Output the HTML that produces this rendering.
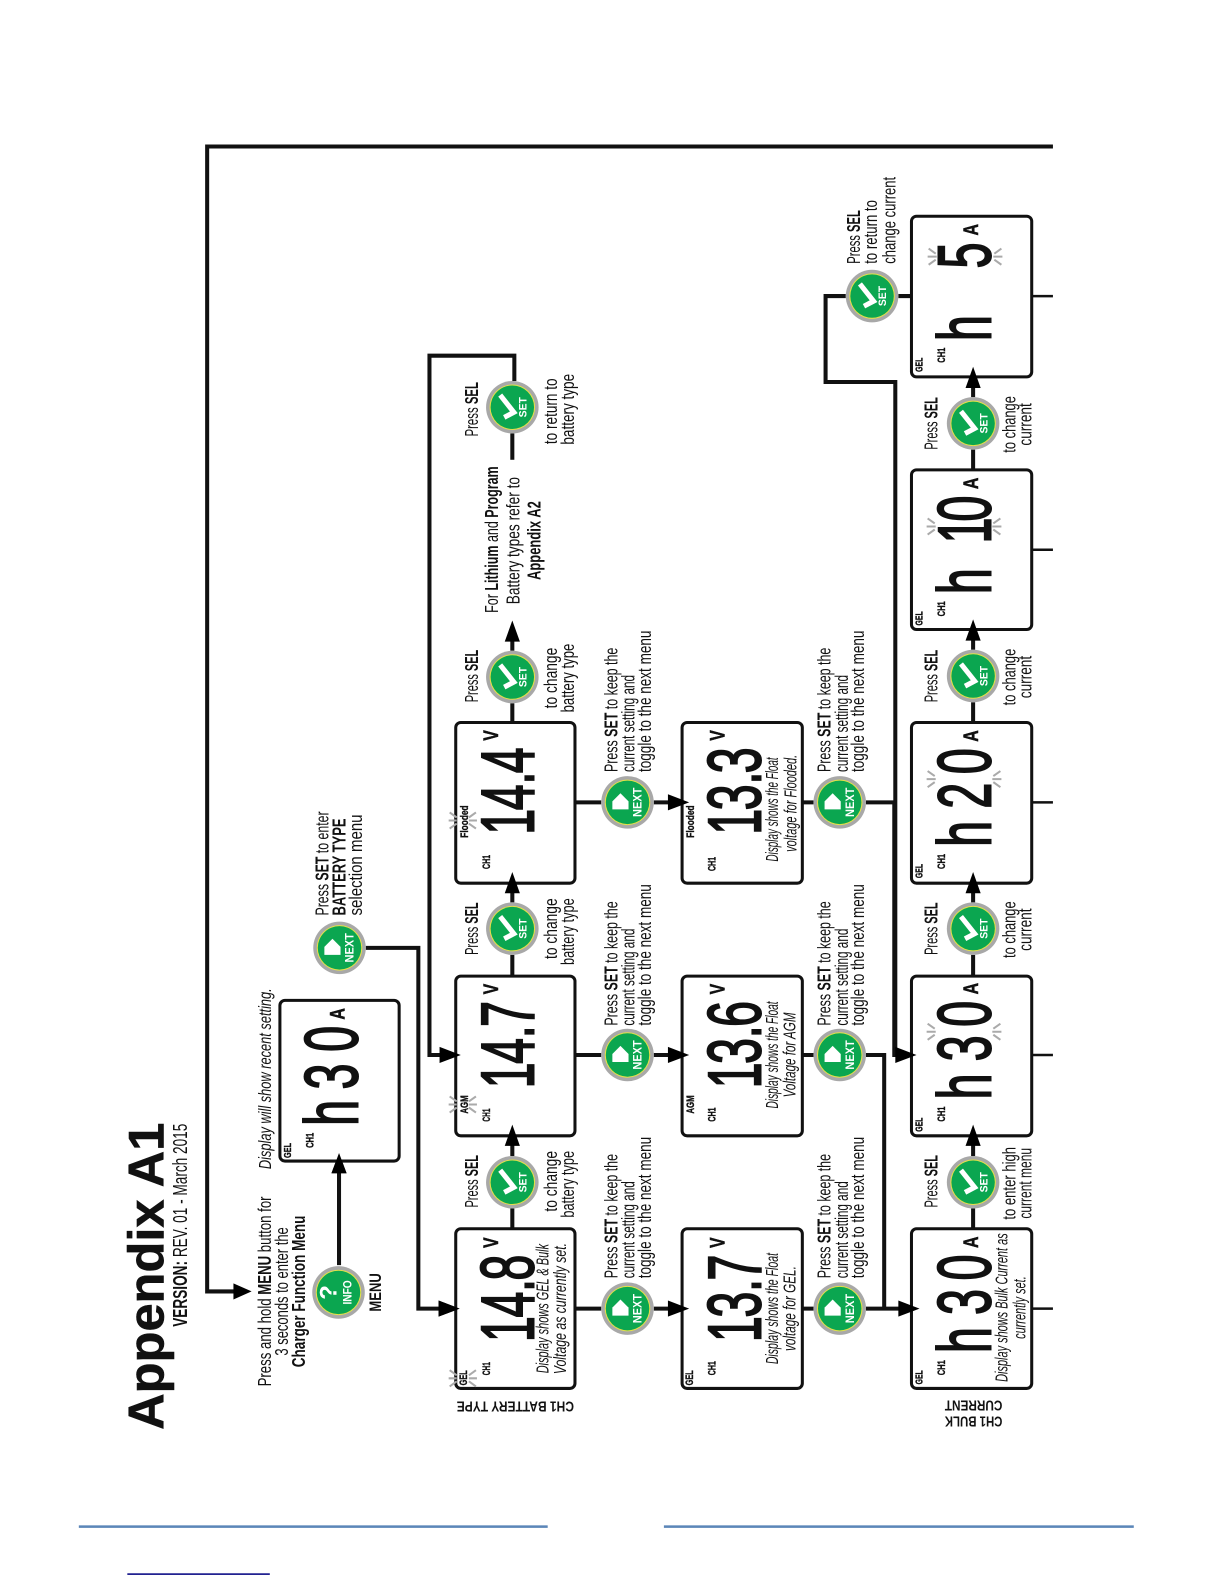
<!DOCTYPE html>
<html><head><meta charset="utf-8"><style>
html,body{margin:0;padding:0;background:#fff}
svg{display:block}
text{font-family:"Liberation Sans",sans-serif;font-size:18px;fill:#111}
.b{font-weight:700}
.i{font-style:italic}
.m{text-anchor:middle}
.bt{font-weight:700;fill:#fff;text-anchor:middle}
.d{font-size:74px;font-weight:400;fill:#111;stroke:#111;stroke-width:2}
.s{font-weight:700;font-size:11px;stroke:#111;stroke-width:.35}
.bt.s{stroke:none;fill:#fff}
.u{font-size:21px;font-weight:700;stroke:#111;stroke-width:.5}
.l{fill:none;stroke:#111;stroke-width:4}
.n{fill:none;stroke:#111;stroke-width:2.5}
.box{fill:#fff;stroke:#111;stroke-width:3}
</style></head><body>
<svg width="1224" height="1584" viewBox="0 0 1224 1584" xmlns="http://www.w3.org/2000/svg">
<defs>
<g id="btn"><circle r="26" fill="#a8a8a8"/><circle r="22.5" fill="#e4e04a"/><circle r="21.5" fill="#0ba650"/></g>
<g id="setb"><use href="#btn"/><path d="M-12,-12 L1.5,5 L-8,10" fill="none" stroke="#fff" stroke-width="5"/></g>
<g id="nextb"><use href="#btn"/><path d="M-15,-1 L-7,-9 L1,-1 V7 H-15 Z" fill="#fff"/></g>
<g id="ray"><path d="M-37,0H-28M-36,-8L-29,-3M-36,8L-29,3M37,0H28M36,-8L29,-3M36,8L29,3" stroke="#aaa" stroke-width="2" fill="none"/></g>
<g id="ray2"><path d="M-14,0H-6M-13,-8L-6,-3M-13,8L-6,3M14,0H6M13,-8L6,-3M13,8L6,3" stroke="#aaa" stroke-width="2" fill="none"/></g>
</defs>
<g transform="scale(1.0105)">

<!-- title -->
<text class="b" style="font-size:50px;stroke:#111;stroke-width:.6" transform="translate(162,1415) rotate(-90)" textLength="304" lengthAdjust="spacingAndGlyphs">Appendix A1</text>
<text style="font-size:20px" transform="translate(185,1313) rotate(-90)" textLength="201" lengthAdjust="spacingAndGlyphs"><tspan class="b">VERSION:</tspan> REV. 01 - March 2015</text>

<!-- frame and connectors -->
<path class="l" d="M1042,145H205V1278H232"/>
<polygon points="249,1278 231,1270 231,1286"/>
<path class="l" d="M362,938H414V1295H436"/>
<polygon points="455,1295 434,1287 434,1303"/>
<path class="l" stroke-width="3" d="M335.5,1252V1160"/>
<polygon points="335.5,1141 328,1161 343,1161"/>

<!-- battery row horizontal connectors -->
<path class="l" d="M507,1216V1196M507,1144V1130"/>
<path class="l" d="M507,966V945M507,893V880"/>
<path class="l" d="M507,715V696M507,644V632"/>
<polygon points="507,614 499.5,635 514.5,635"/>
<path class="l" d="M509,377V352H425V1044H437"/>
<path class="l" d="M507,429V455"/>

<!-- vertical to NEXT row -->
<path class="l" d="M569,1295H595M647,1295H664"/>
<path class="l" d="M569,1044H595M647,1044H664"/>
<path class="l" d="M569,794H595M647,794H664"/>

<path class="l" d="M794,1295H805M794,1044H805M794,794H805"/>
<path class="l" d="M857,1295H892"/>
<path class="l" d="M857,1044H875V1295"/>
<path class="l" d="M857,794H885V1044H890"/>

<!-- bulk row connectors -->
<path class="l" d="M963,1216V1196M963,1144V1130"/>
<path class="l" d="M963,966V945M963,893V880"/>
<path class="l" d="M963,715V695M963,643V630"/>
<path class="l" d="M963,465V445M963,393V380"/>
<path class="l" d="M902,293H889M837,293H817V378H886V1044"/>
<path class="n" d="M1021,1295H1042M1021,1044H1042M1021,794H1042M1021,544H1042M1021,293H1042"/>

<!-- blue footer lines -->
<rect x="78" y="1509.5" width="464" height="2.5" fill="#5b86b8"/>
<rect x="657" y="1509.5" width="465" height="2.5" fill="#5b86b8"/>
<rect x="126" y="1557" width="141" height="1.5" fill="#000080"/>

<!-- boxes -->
<rect class="box" x="277" y="990" width="118" height="159" rx="5"/>
<rect class="box" x="451" y="1216" width="118" height="158" rx="5"/>
<rect class="box" x="451" y="966" width="118" height="158" rx="5"/>
<rect class="box" x="451" y="715" width="118" height="159" rx="5"/>
<rect class="box" x="675" y="1216" width="119" height="158" rx="5"/>
<rect class="box" x="675" y="966" width="119" height="158" rx="5"/>
<rect class="box" x="675" y="715" width="119" height="159" rx="5"/>
<rect class="box" x="902" y="1216" width="119" height="158" rx="5"/>
<rect class="box" x="902" y="966" width="119" height="158" rx="5"/>
<rect class="box" x="902" y="715" width="119" height="159" rx="5"/>
<rect class="box" x="902" y="465" width="119" height="158" rx="5"/>
<rect class="box" x="902" y="214" width="119" height="159" rx="5"/>

<!-- arrows overlapping box edges -->
<polygon points="507,1113 499.5,1134 514.5,1134"/>
<polygon points="507,863 499.5,884 514.5,884"/>
<polygon points="455,1295 434,1287 434,1303"/>
<polygon points="456,1044 435,1036 435,1052"/>
<polygon points="682,1295 661,1287 661,1303"/>
<polygon points="682,1044 661,1036 661,1052"/>
<polygon points="682,794 661,786 661,802"/>
<polygon points="910,1295 889,1287 889,1303"/>
<polygon points="907,1044 886,1036 886,1052"/>
<polygon points="963,1113 955.5,1134 970.5,1134"/>
<polygon points="963,863 955.5,884 970.5,884"/>
<polygon points="963,613 955.5,634 970.5,634"/>
<polygon points="963,363 955.5,384 970.5,384"/>
<polygon points="335.5,1141 328,1161 343,1161"/>

<!-- LCD values -->
<text class="d" transform="translate(354,1114) rotate(-90) scale(.62,1)" x="0 58 118">h30</text>
<text class="u" transform="translate(341,1009) rotate(-90) scale(.75,1)">A</text>
<text class="s" transform="translate(310,1136) rotate(-90)" textLength="15" lengthAdjust="spacingAndGlyphs">CH1</text>
<text class="s" style="font-size:10px" transform="translate(288,1146) rotate(-90)" textLength="15" lengthAdjust="spacingAndGlyphs">GEL</text>

<text class="d" transform="translate(528,1328) rotate(-90) scale(.62,1)" x="0 39 80 98">14.8</text>
<text class="u" transform="translate(493,1235) rotate(-90) scale(.75,1)">V</text>
<text class="s" transform="translate(485,1361) rotate(-90)" textLength="13" lengthAdjust="spacingAndGlyphs">CH1</text>
<text class="s" transform="translate(462,1371) rotate(-90)" textLength="15" lengthAdjust="spacingAndGlyphs">GEL</text>
<text class="i" style="font-size:17px" text-anchor="middle" transform="translate(543,1295) rotate(-90)" textLength="128" lengthAdjust="spacingAndGlyphs">Display shows GEL &amp; Bulk</text>
<text class="i" style="font-size:17px" text-anchor="middle" transform="translate(560,1295) rotate(-90)" textLength="130" lengthAdjust="spacingAndGlyphs">Voltage as currently set.</text>

<text class="d" transform="translate(528,1077) rotate(-90) scale(.62,1)" x="0 39 80 98">14.7</text>
<text class="u" transform="translate(493,984) rotate(-90) scale(.75,1)">V</text>
<text class="s" transform="translate(485,1110) rotate(-90)" textLength="13" lengthAdjust="spacingAndGlyphs">CH1</text>
<text class="s" transform="translate(463,1102) rotate(-90)" textLength="18" lengthAdjust="spacingAndGlyphs">AGM</text>

<text class="d" transform="translate(528,826) rotate(-90) scale(.62,1)" x="0 39 80 98">14.4</text>
<text class="u" transform="translate(493,733) rotate(-90) scale(.75,1)">V</text>
<text class="s" transform="translate(485,860) rotate(-90)" textLength="14" lengthAdjust="spacingAndGlyphs">CH1</text>
<text class="s" transform="translate(463,829) rotate(-90)" textLength="32" lengthAdjust="spacingAndGlyphs">Flooded</text>

<text class="d" transform="translate(752.5,1328) rotate(-90) scale(.62,1)" x="0 39 80 98">13.7</text>
<text class="u" transform="translate(717,1235) rotate(-90) scale(.75,1)">V</text>
<text class="s" transform="translate(708,1361) rotate(-90)" textLength="14" lengthAdjust="spacingAndGlyphs">CH1</text>
<text class="s" transform="translate(686,1371) rotate(-90)" textLength="15" lengthAdjust="spacingAndGlyphs">GEL</text>
<text class="i" style="font-size:17px" text-anchor="middle" transform="translate(770,1295) rotate(-90)" textLength="110" lengthAdjust="spacingAndGlyphs">Display shows the Float</text>
<text class="i" style="font-size:17px" text-anchor="middle" transform="translate(787,1295) rotate(-90)" textLength="84" lengthAdjust="spacingAndGlyphs">voltage for GEL.</text>

<text class="d" transform="translate(752.5,1077) rotate(-90) scale(.62,1)" x="0 39 80 98">13.6</text>
<text class="u" transform="translate(717,984) rotate(-90) scale(.75,1)">V</text>
<text class="s" transform="translate(708,1110) rotate(-90)" textLength="14" lengthAdjust="spacingAndGlyphs">CH1</text>
<text class="s" transform="translate(687,1102) rotate(-90)" textLength="18" lengthAdjust="spacingAndGlyphs">AGM</text>
<text class="i" style="font-size:17px" text-anchor="middle" transform="translate(770,1044) rotate(-90)" textLength="106" lengthAdjust="spacingAndGlyphs">Display shows the Float</text>
<text class="i" style="font-size:17px" text-anchor="middle" transform="translate(787,1044) rotate(-90)" textLength="84" lengthAdjust="spacingAndGlyphs">Voltage for AGM</text>

<text class="d" transform="translate(752.5,826) rotate(-90) scale(.62,1)" x="0 39 80 98">13.3</text>
<text class="u" transform="translate(717,733) rotate(-90) scale(.75,1)">V</text>
<text class="s" transform="translate(708,862) rotate(-90)" textLength="14" lengthAdjust="spacingAndGlyphs">CH1</text>
<text class="s" transform="translate(687,829) rotate(-90)" textLength="32" lengthAdjust="spacingAndGlyphs">Flooded</text>
<text class="i" style="font-size:17px" text-anchor="middle" transform="translate(770,801) rotate(-90)" textLength="103" lengthAdjust="spacingAndGlyphs">Display shows the Float</text>
<text class="i" style="font-size:17px" text-anchor="middle" transform="translate(788,795) rotate(-90)" textLength="96" lengthAdjust="spacingAndGlyphs">voltage for Flooded.</text>

<text class="d" transform="translate(980,1339) rotate(-90) scale(.62,1)" x="0 61 116">h30</text>
<text class="u" transform="translate(968,1235) rotate(-90) scale(.75,1)">A</text>
<text class="s" transform="translate(935,1361) rotate(-90)" textLength="15" lengthAdjust="spacingAndGlyphs">CH1</text>
<text class="s" style="font-size:10px" transform="translate(913,1370) rotate(-90)" textLength="14" lengthAdjust="spacingAndGlyphs">GEL</text>
<text class="i" style="font-size:17px" text-anchor="middle" transform="translate(997,1294) rotate(-90)" textLength="147" lengthAdjust="spacingAndGlyphs">Display shows Bulk Current as</text>
<text class="i" style="font-size:17px" text-anchor="middle" transform="translate(1015,1294) rotate(-90)" textLength="62" lengthAdjust="spacingAndGlyphs">currently set.</text>

<text class="d" transform="translate(980,1088) rotate(-90) scale(.62,1)" x="0 61 116">h30</text>
<text class="u" transform="translate(968,984) rotate(-90) scale(.75,1)">A</text>
<text class="s" transform="translate(935,1110) rotate(-90)" textLength="15" lengthAdjust="spacingAndGlyphs">CH1</text>
<text class="s" style="font-size:10px" transform="translate(913,1120) rotate(-90)" textLength="14" lengthAdjust="spacingAndGlyphs">GEL</text>

<text class="d" transform="translate(980,838) rotate(-90) scale(.62,1)" x="0 61 116">h20</text>
<text class="u" transform="translate(968,734) rotate(-90) scale(.75,1)">A</text>
<text class="s" transform="translate(935,860) rotate(-90)" textLength="15" lengthAdjust="spacingAndGlyphs">CH1</text>
<text class="s" style="font-size:10px" transform="translate(913,869) rotate(-90)" textLength="14" lengthAdjust="spacingAndGlyphs">GEL</text>

<text class="d" transform="translate(980,588) rotate(-90) scale(.62,1)" x="0 81 116">h10</text>
<text class="u" transform="translate(968,484) rotate(-90) scale(.75,1)">A</text>
<text class="s" transform="translate(935,610) rotate(-90)" textLength="15" lengthAdjust="spacingAndGlyphs">CH1</text>
<text class="s" style="font-size:10px" transform="translate(913,619) rotate(-90)" textLength="14" lengthAdjust="spacingAndGlyphs">GEL</text>

<text class="d" transform="translate(980,337.5) rotate(-90) scale(.62,1)" x="0 116">h5</text>
<text class="u" transform="translate(968,233) rotate(-90) scale(.75,1)">A</text>
<text class="s" transform="translate(935,359) rotate(-90)" textLength="15" lengthAdjust="spacingAndGlyphs">CH1</text>
<text class="s" style="font-size:10px" transform="translate(913,368) rotate(-90)" textLength="14" lengthAdjust="spacingAndGlyphs">GEL</text>

<!-- rays -->
<use href="#ray2" x="458" y="1364"/>
<use href="#ray2" x="458" y="1093"/>
<use href="#ray2" x="458" y="812"/>
<use href="#ray" x="954" y="1021"/>
<use href="#ray" x="954" y="771"/>
<use href="#ray" x="954" y="521"/>
<use href="#ray" x="955" y="254"/>

<!-- buttons -->
<g transform="translate(335,1279)"><use href="#btn"/><text class="bt" style="font-size:24px" transform="translate(-2,0) rotate(-90)">?</text><text class="bt" style="font-size:12px" transform="translate(13,0) rotate(-90)" textLength="24" lengthAdjust="spacingAndGlyphs">INFO</text></g>
<g transform="translate(336,938)"><use href="#nextb"/><text class="bt" style="font-size:12px" transform="translate(14,0) rotate(-90)" textLength="29" lengthAdjust="spacingAndGlyphs">NEXT</text></g>

<g transform="translate(507,1170)"><use href="#setb"/><text class="bt s" transform="translate(14,0) rotate(-90)" textLength="20" lengthAdjust="spacingAndGlyphs">SET</text></g>
<g transform="translate(507,919)"><use href="#setb"/><text class="bt s" transform="translate(14,0) rotate(-90)" textLength="20" lengthAdjust="spacingAndGlyphs">SET</text></g>
<g transform="translate(507,670)"><use href="#setb"/><text class="bt s" transform="translate(14,0) rotate(-90)" textLength="20" lengthAdjust="spacingAndGlyphs">SET</text></g>
<g transform="translate(507,403)"><use href="#setb"/><text class="bt s" transform="translate(14,0) rotate(-90)" textLength="20" lengthAdjust="spacingAndGlyphs">SET</text></g>
<g transform="translate(963,1170)"><use href="#setb"/><text class="bt s" transform="translate(14,0) rotate(-90)" textLength="20" lengthAdjust="spacingAndGlyphs">SET</text></g>
<g transform="translate(963,919)"><use href="#setb"/><text class="bt s" transform="translate(14,0) rotate(-90)" textLength="20" lengthAdjust="spacingAndGlyphs">SET</text></g>
<g transform="translate(963,669)"><use href="#setb"/><text class="bt s" transform="translate(14,0) rotate(-90)" textLength="20" lengthAdjust="spacingAndGlyphs">SET</text></g>
<g transform="translate(963,419)"><use href="#setb"/><text class="bt s" transform="translate(14,0) rotate(-90)" textLength="20" lengthAdjust="spacingAndGlyphs">SET</text></g>
<g transform="translate(863,293)"><use href="#setb"/><text class="bt s" transform="translate(14,0) rotate(-90)" textLength="20" lengthAdjust="spacingAndGlyphs">SET</text></g>

<g transform="translate(621,1295)"><use href="#nextb"/><text class="bt" style="font-size:12px" transform="translate(14,0) rotate(-90)" textLength="29" lengthAdjust="spacingAndGlyphs">NEXT</text></g>
<g transform="translate(621,1044)"><use href="#nextb"/><text class="bt" style="font-size:12px" transform="translate(14,0) rotate(-90)" textLength="29" lengthAdjust="spacingAndGlyphs">NEXT</text></g>
<g transform="translate(621,794)"><use href="#nextb"/><text class="bt" style="font-size:12px" transform="translate(14,0) rotate(-90)" textLength="29" lengthAdjust="spacingAndGlyphs">NEXT</text></g>
<g transform="translate(831,1295)"><use href="#nextb"/><text class="bt" style="font-size:12px" transform="translate(14,0) rotate(-90)" textLength="29" lengthAdjust="spacingAndGlyphs">NEXT</text></g>
<g transform="translate(831,1044)"><use href="#nextb"/><text class="bt" style="font-size:12px" transform="translate(14,0) rotate(-90)" textLength="29" lengthAdjust="spacingAndGlyphs">NEXT</text></g>
<g transform="translate(831,794)"><use href="#nextb"/><text class="bt" style="font-size:12px" transform="translate(14,0) rotate(-90)" textLength="29" lengthAdjust="spacingAndGlyphs">NEXT</text></g>

<!-- menu text -->
<text class="m" transform="translate(268,1278) rotate(-90)" textLength="188" lengthAdjust="spacingAndGlyphs">Press and hold <tspan class="b">MENU</tspan> button for</text>
<text class="m" transform="translate(285,1278) rotate(-90)" textLength="127" lengthAdjust="spacingAndGlyphs">3 seconds to enter the</text>
<text class="m b" transform="translate(302,1278) rotate(-90)" textLength="150" lengthAdjust="spacingAndGlyphs">Charger Function Menu</text>
<text class="m b" style="font-size:16px" transform="translate(377,1279) rotate(-90)" textLength="38" lengthAdjust="spacingAndGlyphs">MENU</text>
<text class="i" style="font-size:17px" transform="translate(268,1157) rotate(-90)" textLength="179" lengthAdjust="spacingAndGlyphs">Display will show recent setting.</text>
<text transform="translate(325,906) rotate(-90)" textLength="103" lengthAdjust="spacingAndGlyphs">Press <tspan class="b">SET</tspan> to enter</text>
<text class="b" transform="translate(342,906) rotate(-90)" textLength="96" lengthAdjust="spacingAndGlyphs">BATTERY TYPE</text>
<text transform="translate(358,906) rotate(-90)" textLength="100" lengthAdjust="spacingAndGlyphs">selection menu</text>

<!-- press SEL row 1 -->
<text class="m" transform="translate(473,1169) rotate(-90)" textLength="52" lengthAdjust="spacingAndGlyphs">Press <tspan class="b">SEL</tspan></text>
<text class="m" transform="translate(551,1169) rotate(-90)" textLength="60" lengthAdjust="spacingAndGlyphs">to change</text>
<text class="m" transform="translate(568,1172) rotate(-90)" textLength="66" lengthAdjust="spacingAndGlyphs">battery type</text>
<text class="m" transform="translate(473,919) rotate(-90)" textLength="52" lengthAdjust="spacingAndGlyphs">Press <tspan class="b">SEL</tspan></text>
<text class="m" transform="translate(551,919) rotate(-90)" textLength="60" lengthAdjust="spacingAndGlyphs">to change</text>
<text class="m" transform="translate(568,922) rotate(-90)" textLength="66" lengthAdjust="spacingAndGlyphs">battery type</text>
<text class="m" transform="translate(473,669) rotate(-90)" textLength="52" lengthAdjust="spacingAndGlyphs">Press <tspan class="b">SEL</tspan></text>
<text class="m" transform="translate(551,671) rotate(-90)" textLength="60" lengthAdjust="spacingAndGlyphs">to change</text>
<text class="m" transform="translate(568,671) rotate(-90)" textLength="68" lengthAdjust="spacingAndGlyphs">battery type</text>
<text class="m" transform="translate(473,405) rotate(-90)" textLength="54" lengthAdjust="spacingAndGlyphs">Press <tspan class="b">SEL</tspan></text>
<text class="m" transform="translate(551,407) rotate(-90)" textLength="65" lengthAdjust="spacingAndGlyphs">to return to</text>
<text class="m" transform="translate(568,405) rotate(-90)" textLength="70" lengthAdjust="spacingAndGlyphs">battery type</text>

<text class="m" transform="translate(493,534) rotate(-90)" textLength="145" lengthAdjust="spacingAndGlyphs">For <tspan class="b">Lithium</tspan> and <tspan class="b">Program</tspan></text>
<text class="m" transform="translate(514,535) rotate(-90)" textLength="126" lengthAdjust="spacingAndGlyphs">Battery types refer to</text>
<text class="m b" transform="translate(535,535) rotate(-90)" textLength="78" lengthAdjust="spacingAndGlyphs">Appendix A2</text>

<!-- Press SET to keep -->
<text transform="translate(611,1265) rotate(-90)" textLength="123" lengthAdjust="spacingAndGlyphs">Press <tspan class="b">SET</tspan> to keep the</text>
<text transform="translate(628,1265) rotate(-90)" textLength="96" lengthAdjust="spacingAndGlyphs">current setting and</text>
<text transform="translate(644,1265) rotate(-90)" textLength="140" lengthAdjust="spacingAndGlyphs">toggle to the next menu</text>
<text transform="translate(611,1015) rotate(-90)" textLength="123" lengthAdjust="spacingAndGlyphs">Press <tspan class="b">SET</tspan> to keep the</text>
<text transform="translate(628,1015) rotate(-90)" textLength="96" lengthAdjust="spacingAndGlyphs">current setting and</text>
<text transform="translate(644,1015) rotate(-90)" textLength="140" lengthAdjust="spacingAndGlyphs">toggle to the next menu</text>
<text transform="translate(611,764) rotate(-90)" textLength="123" lengthAdjust="spacingAndGlyphs">Press <tspan class="b">SET</tspan> to keep the</text>
<text transform="translate(628,764) rotate(-90)" textLength="96" lengthAdjust="spacingAndGlyphs">current setting and</text>
<text transform="translate(644,764) rotate(-90)" textLength="140" lengthAdjust="spacingAndGlyphs">toggle to the next menu</text>
<text transform="translate(822,1265) rotate(-90)" textLength="123" lengthAdjust="spacingAndGlyphs">Press <tspan class="b">SET</tspan> to keep the</text>
<text transform="translate(839,1265) rotate(-90)" textLength="96" lengthAdjust="spacingAndGlyphs">current setting and</text>
<text transform="translate(855,1265) rotate(-90)" textLength="140" lengthAdjust="spacingAndGlyphs">toggle to the next menu</text>
<text transform="translate(822,1015) rotate(-90)" textLength="123" lengthAdjust="spacingAndGlyphs">Press <tspan class="b">SET</tspan> to keep the</text>
<text transform="translate(839,1015) rotate(-90)" textLength="96" lengthAdjust="spacingAndGlyphs">current setting and</text>
<text transform="translate(855,1015) rotate(-90)" textLength="140" lengthAdjust="spacingAndGlyphs">toggle to the next menu</text>
<text transform="translate(822,764) rotate(-90)" textLength="123" lengthAdjust="spacingAndGlyphs">Press <tspan class="b">SET</tspan> to keep the</text>
<text transform="translate(839,764) rotate(-90)" textLength="96" lengthAdjust="spacingAndGlyphs">current setting and</text>
<text transform="translate(855,764) rotate(-90)" textLength="140" lengthAdjust="spacingAndGlyphs">toggle to the next menu</text>

<!-- bulk row SEL text -->
<text class="m" transform="translate(928,1169) rotate(-90)" textLength="52" lengthAdjust="spacingAndGlyphs">Press <tspan class="b">SEL</tspan></text>
<text class="m" transform="translate(1005,1171) rotate(-90)" textLength="72" lengthAdjust="spacingAndGlyphs">to enter high</text>
<text class="m" transform="translate(1021,1171) rotate(-90)" textLength="70" lengthAdjust="spacingAndGlyphs">current menu</text>
<text class="m" transform="translate(928,919) rotate(-90)" textLength="52" lengthAdjust="spacingAndGlyphs">Press <tspan class="b">SEL</tspan></text>
<text class="m" transform="translate(1005,920) rotate(-90)" textLength="56" lengthAdjust="spacingAndGlyphs">to change</text>
<text class="m" transform="translate(1021,920) rotate(-90)" textLength="42" lengthAdjust="spacingAndGlyphs">current</text>
<text class="m" transform="translate(928,669) rotate(-90)" textLength="52" lengthAdjust="spacingAndGlyphs">Press <tspan class="b">SEL</tspan></text>
<text class="m" transform="translate(1005,670) rotate(-90)" textLength="56" lengthAdjust="spacingAndGlyphs">to change</text>
<text class="m" transform="translate(1021,670) rotate(-90)" textLength="42" lengthAdjust="spacingAndGlyphs">current</text>
<text class="m" transform="translate(928,419) rotate(-90)" textLength="52" lengthAdjust="spacingAndGlyphs">Press <tspan class="b">SEL</tspan></text>
<text class="m" transform="translate(1005,420) rotate(-90)" textLength="56" lengthAdjust="spacingAndGlyphs">to change</text>
<text class="m" transform="translate(1021,420) rotate(-90)" textLength="42" lengthAdjust="spacingAndGlyphs">current</text>
<text transform="translate(851,261) rotate(-90)" textLength="53" lengthAdjust="spacingAndGlyphs">Press <tspan class="b">SEL</tspan></text>
<text transform="translate(868,261) rotate(-90)" textLength="63" lengthAdjust="spacingAndGlyphs">to return to</text>
<text transform="translate(886,261) rotate(-90)" textLength="86" lengthAdjust="spacingAndGlyphs">change current</text>

<!-- upside-down headers -->
<text class="b" style="font-size:15px" transform="translate(568,1387) rotate(180)" textLength="116" lengthAdjust="spacingAndGlyphs">CH1 BATTERY TYPE</text>
<text class="b" style="font-size:15px" transform="translate(992,1402) rotate(180)" textLength="57" lengthAdjust="spacingAndGlyphs">CH1 BULK</text>
<text class="b" style="font-size:15px" transform="translate(992,1386) rotate(180)" textLength="57" lengthAdjust="spacingAndGlyphs">CURRENT</text>
</g>
</svg>
</body></html>
